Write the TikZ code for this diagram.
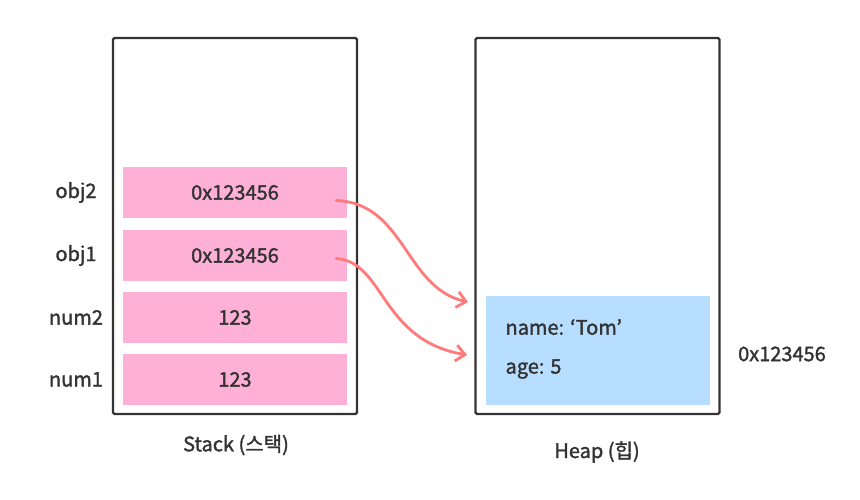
\documentclass[tikz,border=0pt]{standalone}
\usepackage{fontspec}
\setmainfont{Noto Sans CJK KR}[BoldFont={Noto Sans CJK KR},
  BoldFeatures={FakeBold=1.6}]
\usepackage{tikz}
\usetikzlibrary{arrows.meta,positioning,calc}
\definecolor{inkgray}{HTML}{333333}
\definecolor{cellpink}{HTML}{FFB0D6}
\definecolor{objblue}{HTML}{B8DEFF}
\definecolor{linkred}{HTML}{FF7A7A}

\begin{document}
\begin{tikzpicture}[
    x=1pt, y=-1pt,
    area/.style={draw=inkgray, line width=2.4pt, rounded corners=1.5pt,
                 minimum width=244pt, minimum height=376pt},
    cell/.style={fill=cellpink, minimum width=224pt, minimum height=51pt,
                 font=\fontsize{20}{24}\selectfont\bfseries, text=inkgray},
    lbl/.style={font=\fontsize{20}{24}\selectfont\bfseries, text=inkgray},
    link/.style={-{Straight Barb[length=9pt, width=16pt, line width=2.8pt]},
                 line width=2.8pt, line cap=round, linkred}
  ]
    \useasboundingbox (0,0) rectangle (860,500);

    % Stack and heap frames
    \node[area] (stack) at (235,226) {};
    \node[area] (heap)  at (597.5,226) {};

    % Stack cells
    \node[cell] (o2) at (235,192.5) {0x123456};
    \node[cell] (o1) at (235,255.5) {0x123456};
    \node[cell] (n2) at (235,317.5) {123};
    \node[cell] (n1) at (235,379.5) {123};

    \foreach \c/\t in {o2/obj2, o1/obj1, n2/num2, n1/num1}
      \node[lbl] at (76,0 |- \c) {\t};

    % Heap object
    \node[fill=objblue, minimum width=224pt, minimum height=109pt]
      (obj) at (598,350.5) {};
    \node[lbl, anchor=west] (nm) at (502,327) {name: ‘Tom’};
    \node[lbl, anchor=west] (ag) at (502,369) {age: 5};
    \node[lbl] (addr) at (782,354) {0x123456};

    % Captions
    \node[lbl] (scap) at (236,445) {Stack (스택)};
    \node[lbl] (hcap) at (597,452) {Heap (힙)};

    % References
    \coordinate (r2) at ([xshift=-11pt,yshift=-8pt]o2.east);
    \coordinate (r1) at ([xshift=-11pt,yshift=-3pt]o1.east);
    \coordinate (t2) at (468,302);
    \coordinate (t1) at (467,355);
    \draw[link] (r2) .. controls (405,203) and (405,288) .. (t2);
    \draw[link] (r1) .. controls (385,262) and (380,340) .. (t1);
  \end{tikzpicture}
\end{document}
